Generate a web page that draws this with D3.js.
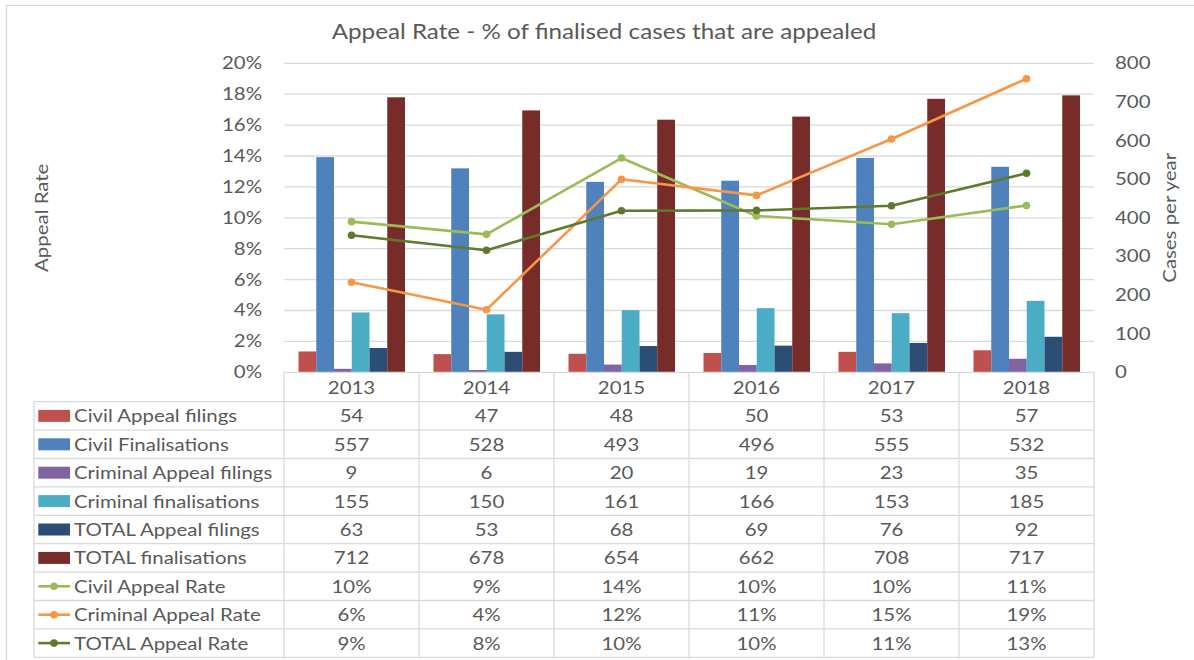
<!DOCTYPE html>
<html><head><meta charset="utf-8">
<script src="https://cdn.jsdelivr.net/npm/d3@7"></script>
<style>body{margin:0;background:#fff} svg{display:block;font-family:Lato, "Open Sans", sans-serif}</style>
</head><body><svg id="c" width="1194" height="660"></svg>
<script>
// ---- data ----
const title = "Appeal Rate - % of finalised cases that are appealed";
const years = ["2013", "2014", "2015", "2016", "2017", "2018"];
const civilAppealFilings = [54, 47, 48, 50, 53, 57];
const civilFinalisations = [557, 528, 493, 496, 555, 532];
const criminalAppealFilings = [9, 6, 20, 19, 23, 35];
const criminalFinalisations = [155, 150, 161, 166, 153, 185];
const totalAppealFilings = [63, 53, 68, 69, 76, 92];
const totalFinalisations = [712, 678, 654, 662, 708, 717];
const civilAppealRate = [0.0975, 0.0893, 0.1387, 0.1012, 0.0958, 0.1080];
const criminalAppealRate = [0.0583, 0.0405, 0.1249, 0.1145, 0.1510, 0.1900];
const totalAppealRate = [0.0887, 0.0790, 0.1046, 0.1048, 0.1078, 0.1288];
const leftTicks = [0, 0.02, 0.04, 0.06, 0.08, 0.10, 0.12, 0.14, 0.16, 0.18, 0.20];
const rightTicks = [0, 100, 200, 300, 400, 500, 600, 700, 800];
const leftAxisTitle = "Appeal Rate";
const rightAxisTitle = "Cases per year";

const barNames = ["Civil Appeal filings", "Civil Finalisations", "Criminal Appeal filings", "Criminal finalisations", "TOTAL Appeal filings", "TOTAL finalisations"];
const barColors = ["#C0504D", "#4F81BD", "#8064A2", "#4BACC6", "#2C4D75", "#772C2A"];
const lineNames = ["Civil Appeal Rate", "Criminal Appeal Rate", "TOTAL Appeal Rate"];
const lineColors = ["#9BBB59", "#F79646", "#5E7A2E"];

const barSeries = [civilAppealFilings, civilFinalisations, criminalAppealFilings, criminalFinalisations, totalAppealFilings, totalFinalisations]
  .map((v, i) => ({name: barNames[i], color: barColors[i], values: v}));
const lineSeries = [civilAppealRate, criminalAppealRate, totalAppealRate]
  .map((v, i) => ({name: lineNames[i], color: lineColors[i], values: v}));

// ---- layout ----
const svg = d3.select("#c");
const textColor = "#595959", gridColor = "#D9D9D9";
const plotL = 284, plotR = 1094, plotT = 63.3, plotB = 372.3;
const tableL = 34, rowH = 28.4, tableTop = 401.7;
const fs = 17;

svg.append("rect").attr("x", 6.5).attr("y", 5.5).attr("width", 1300).attr("height", 800)
  .attr("fill", "#fff").attr("stroke", gridColor).attr("stroke-width", 1.3);

const x0 = d3.scaleBand().domain(years).range([plotL, plotR]);
const x1 = d3.scaleBand().domain(barNames).range([14.5, x0.bandwidth() - 14]);
const yL = d3.scaleLinear().domain([0, 0.2]).range([plotB, plotT]);
const yR = d3.scaleLinear().domain([0, 800]).range([plotB, plotT]);

// gridlines
svg.append("g").selectAll("line").data(leftTicks.slice(1)).join("line")
  .attr("x1", plotL).attr("x2", plotR).attr("y1", d => yL(d)).attr("y2", d => yL(d))
  .attr("stroke", gridColor).attr("stroke-width", 1.3);

// title
svg.append("text").attr("class", "ttl").attr("x", 604).attr("y", 31).attr("text-anchor", "middle").attr("dominant-baseline", "central")
  .attr("fill", textColor).attr("font-size", 20.5).text(title);

// left axis
const axL = svg.append("g").attr("transform", `translate(${plotL - 14},0)`)
  .call(d3.axisLeft(yL).tickValues(leftTicks).tickFormat(d3.format(".0%")).tickSize(0).tickPadding(0));
axL.select(".domain").remove();
axL.selectAll("text").attr("fill", textColor).attr("font-size", fs).attr("font-family", "Lato").attr("x", -8);

// right axis
const axR = svg.append("g").attr("transform", `translate(${plotR},0)`)
  .call(d3.axisRight(yR).tickValues(rightTicks).tickFormat(d3.format("d")).tickSize(0).tickPadding(21));
axR.select(".domain").remove();
axR.selectAll("text").attr("fill", textColor).attr("font-size", fs).attr("font-family", "Lato");

// axis titles
svg.append("text").attr("transform", `translate(41,${(plotT + plotB) / 2}) rotate(-90)`)
  .attr("text-anchor", "middle").attr("dominant-baseline", "central").attr("fill", textColor).attr("font-size", fs).text(leftAxisTitle);
svg.append("text").attr("transform", `translate(1169,${(plotT + plotB) / 2}) rotate(-90)`)
  .attr("text-anchor", "middle").attr("dominant-baseline", "central").attr("fill", textColor).attr("font-size", fs).text(rightAxisTitle);

// bars
const gb = svg.append("g");
barSeries.forEach(s => {
  gb.append("g").selectAll("rect").data(s.values).join("rect")
    .attr("x", (d, i) => x0(years[i]) + x1(s.name))
    .attr("width", x1.bandwidth())
    .attr("y", d => yR(d))
    .attr("height", d => yR(0) - yR(d))
    .attr("fill", s.color);
});

// lines
const line = d3.line().x((d, i) => x0(years[i]) + x0.bandwidth() / 2).y(d => yL(d));
lineSeries.forEach(s => {
  svg.append("path").datum(s.values).attr("d", line).attr("fill", "none")
    .attr("stroke", s.color).attr("stroke-width", 2.6).attr("stroke-linejoin", "round");
  svg.append("g").selectAll("circle").data(s.values).join("circle")
    .attr("cx", (d, i) => x0(years[i]) + x0.bandwidth() / 2).attr("cy", d => yL(d))
    .attr("r", 3.8).attr("fill", s.color);
});

// ---- data table ----
const gt = svg.append("g");
const allRows = [
  ...barSeries.map(s => ({...s, type: "bar", fmt: d3.format("d")})),
  ...lineSeries.map(s => ({...s, type: "line", fmt: d3.format(".0%")}))
];
const tableBottom = tableTop + rowH * allRows.length;
const lineStyle = sel => sel.attr("stroke", gridColor).attr("stroke-width", 1.3);

// horizontal lines
gt.append("line").attr("x1", plotL).attr("x2", plotR).attr("y1", plotB).attr("y2", plotB).call(lineStyle);
d3.range(allRows.length + 1).forEach(i => {
  gt.append("line").attr("x1", tableL).attr("x2", plotR)
    .attr("y1", tableTop + i * rowH).attr("y2", tableTop + i * rowH).call(lineStyle);
});
// vertical lines
gt.append("line").attr("x1", tableL).attr("x2", tableL).attr("y1", tableTop).attr("y2", tableBottom).call(lineStyle);
years.forEach(y => {
  gt.append("line").attr("x1", x0(y)).attr("x2", x0(y)).attr("y1", plotB).attr("y2", tableBottom).call(lineStyle);
});
gt.append("line").attr("x1", plotR).attr("x2", plotR).attr("y1", plotB).attr("y2", tableBottom).call(lineStyle);

// header
gt.selectAll("text.hdr").data(years).join("text").attr("class", "hdr")
  .attr("x", d => x0(d) + x0.bandwidth() / 2).attr("y", (plotB + tableTop) / 2)
  .attr("text-anchor", "middle").attr("dominant-baseline", "central")
  .attr("fill", textColor).attr("font-size", fs).text(d => d);

allRows.forEach((r, i) => {
  const cy = tableTop + i * rowH + rowH / 2;
  if (r.type === "bar") {
    gt.append("rect").attr("x", 38.3).attr("y", cy - 6).attr("width", 31.7).attr("height", 12).attr("fill", r.color);
  } else {
    gt.append("line").attr("x1", 38.3).attr("x2", 70).attr("y1", cy).attr("y2", cy).attr("stroke", r.color).attr("stroke-width", 2.6);
    gt.append("circle").attr("cx", 54).attr("cy", cy).attr("r", 3.8).attr("fill", r.color);
  }
  gt.append("text").attr("x", 74).attr("y", cy).attr("dominant-baseline", "central")
    .attr("fill", textColor).attr("font-size", fs).text(r.name);
  gt.append("g").selectAll("text").data(r.values).join("text")
    .attr("x", (d, j) => x0(years[j]) + x0.bandwidth() / 2).attr("y", cy)
    .attr("text-anchor", "middle").attr("dominant-baseline", "central")
    .attr("fill", textColor).attr("font-size", fs).text(d => r.fmt(d));
});

// widen glyphs horizontally to match the stretched look of the reference
svg.selectAll("text").each(function () {
  const k = this.classList.contains("ttl") ? 1.18 : 1.2;
  const len = this.getComputedTextLength();
  d3.select(this).attr("textLength", len * k).attr("lengthAdjust", "spacingAndGlyphs");
});
</script></body></html>
